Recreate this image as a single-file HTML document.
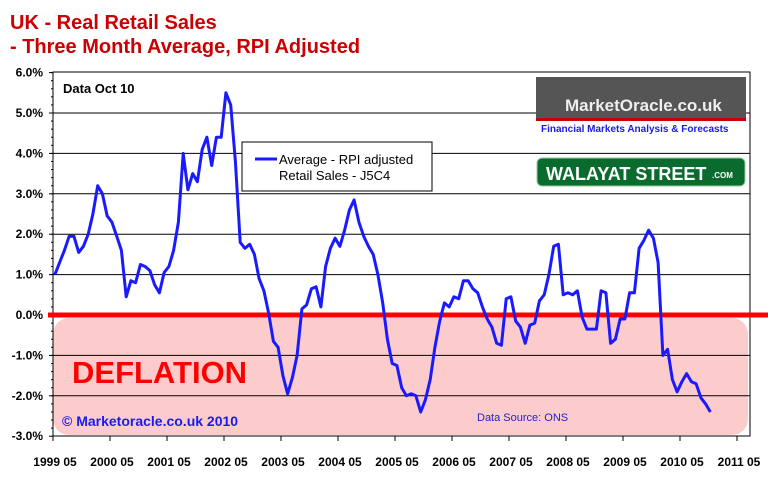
<!DOCTYPE html>
<html><head><meta charset="utf-8"><style>
body{margin:0;background:#fff;width:768px;height:474px;overflow:hidden;font-family:"Liberation Sans",Arial,sans-serif}
</style></head><body>
<svg id="c" width="768" height="474" xmlns="http://www.w3.org/2000/svg">
<text x="10" y="29" font-size="20" font-weight="bold" fill="#cc0000">UK - Real Retail Sales</text>
<text x="10" y="53" font-size="20" font-weight="bold" fill="#cc0000">- Three Month Average, RPI Adjusted</text>
<rect x="53" y="318" width="695" height="117" rx="16" fill="#fccccc"/>
<g id="grid"></g>
<rect x="53" y="72" width="697" height="364" fill="none" stroke="#000" stroke-width="1"/>
<text x="63" y="93" font-size="13" font-weight="bold">Data Oct 10</text>
<text x="72" y="383" font-size="31" font-weight="bold" fill="#ff0000">DEFLATION</text>
<text x="62" y="426" font-size="14" font-weight="bold" fill="#1a1aee">© Marketoracle.co.uk  2010</text>
<text x="477" y="421" font-size="11" fill="#2222cc">Data Source: ONS</text>
<g>
<rect x="536" y="77" width="210" height="42" fill="#555"/>
<rect x="536" y="118" width="210" height="3" fill="#cc0000"/>
<text x="565" y="111" font-size="17" font-weight="bold" fill="#eee">MarketOracle.co.uk</text>
<text x="541" y="132" font-size="10" font-weight="bold" fill="#1a1aee">Financial Markets Analysis &amp; Forecasts</text>
</g>
<g>
<rect x="537" y="158" width="208" height="28" rx="5" fill="#0a6b2e" stroke="#9c9" stroke-width="1"/>
<text x="546" y="180" font-size="18" font-weight="bold" fill="#fff">WALAYAT STREET</text>
<text x="712" y="178" font-size="8" font-weight="bold" fill="#fff">.COM</text>
</g>
<g>
<rect x="242" y="142" width="190" height="49" fill="#fff" stroke="#000"/>
<line x1="255" y1="159" x2="277" y2="159" stroke="#1a1aff" stroke-width="3"/>
<text x="279" y="164" font-size="13">Average - RPI adjusted</text>
<text x="279" y="180" font-size="13">Retail Sales  - J5C4</text>
</g>
<g id="axes"></g>
<line x1="48" y1="315" x2="768" y2="315" stroke="#ff0000" stroke-width="5"/>
<g id="series"></g>
</svg>
<script>
const yTicks=[6,5,4,3,2,1,0,-1,-2,-3];
const xTickLabels=["1999 05","2000 05","2001 05","2002 05","2003 05","2004 05","2005 05","2006 05","2007 05","2008 05","2009 05","2010 05","2011 05"];
const values=[1.0,1.3,1.6,1.95,1.95,1.55,1.7,2.0,2.5,3.2,3.0,2.45,2.3,1.95,1.6,0.45,0.85,0.8,1.25,1.2,1.1,0.75,0.55,1.05,1.2,1.6,2.3,4.0,3.1,3.5,3.3,4.1,4.4,3.7,4.4,4.4,5.5,5.2,3.8,1.8,1.65,1.75,1.5,0.9,0.6,0.05,-0.65,-0.8,-1.5,-1.95,-1.55,-1.0,0.15,0.25,0.65,0.7,0.2,1.2,1.65,1.9,1.7,2.1,2.6,2.85,2.3,1.95,1.7,1.5,1.0,0.3,-0.6,-1.2,-1.25,-1.8,-2.0,-1.95,-2.0,-2.4,-2.1,-1.6,-0.8,-0.15,0.3,0.2,0.45,0.4,0.85,0.85,0.65,0.55,0.2,-0.1,-0.3,-0.7,-0.75,0.4,0.45,-0.15,-0.3,-0.7,-0.25,-0.2,0.35,0.5,1.0,1.7,1.75,0.5,0.55,0.5,0.6,-0.05,-0.35,-0.35,-0.35,0.6,0.55,-0.7,-0.6,-0.1,-0.1,0.55,0.55,1.65,1.85,2.1,1.9,1.3,-1.0,-0.85,-1.6,-1.9,-1.65,-1.45,-1.65,-1.7,-2.05,-2.2,-2.4];
const NS="http://www.w3.org/2000/svg";
const X0=53,MONTH=4.75;
function xm(i){return X0+i*MONTH;}
function yv(v){return 315-v*40.4;}
function mk(t,a,p){const e=document.createElementNS(NS,t);for(const k in a)e.setAttribute(k,a[k]);p.appendChild(e);return e;}
const grid=document.getElementById('grid'),axes=document.getElementById('axes');
yTicks.forEach(v=>{
 if(v<6&&v>-3&&v!==0){const g=mk('line',{x1:53,x2:750,y1:yv(v),y2:yv(v),stroke:'#000','stroke-width':1},grid);
 
 }
 const t=mk('text',{x:43,y:yv(v)+4,'text-anchor':'end','font-size':12,'font-weight':'bold'},axes);
 t.textContent=v.toFixed(1)+'%';
 
 
 const tk=mk('line',{x1:49,x2:53,y1:yv(v),y2:yv(v),stroke:'#000'},axes);
 
 
});
for(let i=0;i<45;i++){const yy=yv(6-i*0.2);mk('line',{x1:51,x2:53,y1:yy,y2:yy,stroke:'#000'},axes);}
xTickLabels.forEach((l,k)=>{
 const x=xm(k*12);
 const tk=mk('line',{x1:x,x2:x,y1:436,y2:441,stroke:'#000'},axes);
 
 
 const t=mk('text',{x:x+2,y:466,'text-anchor':'middle','font-size':12,'font-weight':'bold'},axes);
 t.textContent=l;
 
 
});
const pts=values.map((v,i)=>xm(i+0.4).toFixed(1)+','+yv(v).toFixed(1)).join(' ');
const pl=mk('polyline',{points:pts,fill:'none',stroke:'#1a1aff','stroke-width':3,'stroke-linejoin':'round'},document.getElementById('series'));


</script>
</body></html>
